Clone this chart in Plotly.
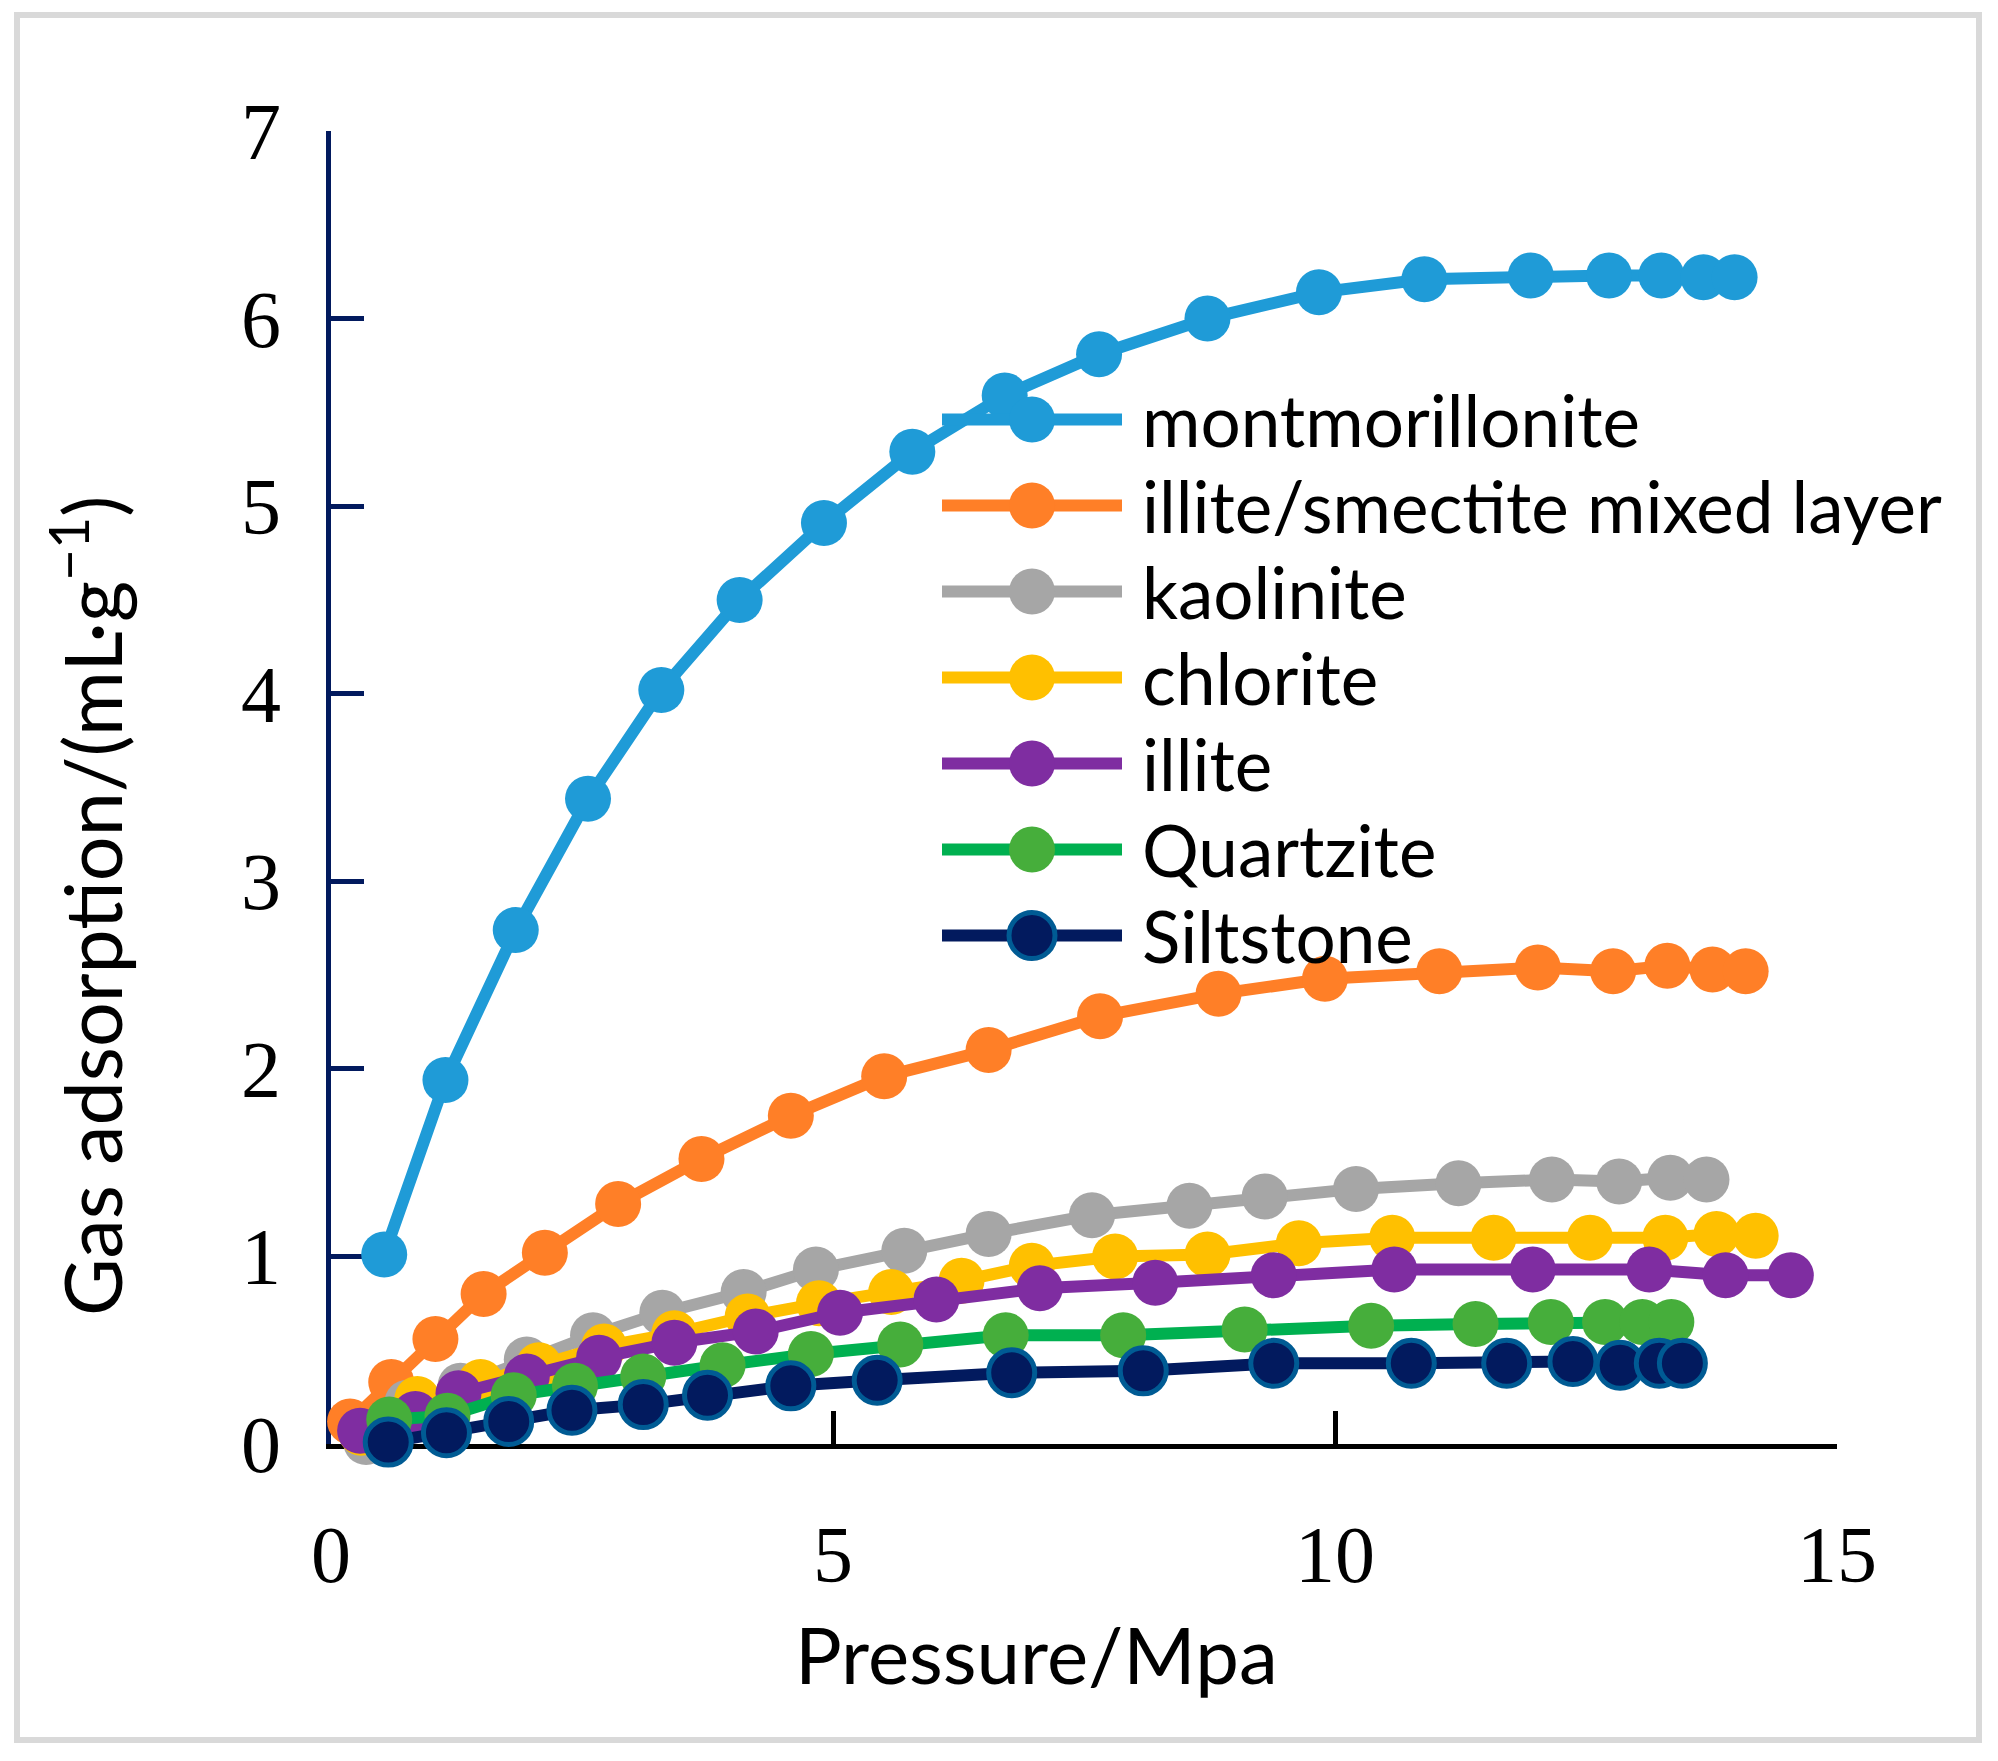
import plotly.graph_objects as go

# ---------------- data ----------------
series_names = ["montmorillonite", "illite/smectite mixed layer", "kaolinite",
                "chlorite", "illite", "Quartzite", "Siltstone"]

montmorillonite_p = [0.53, 1.14, 1.84, 2.56, 3.29, 4.07, 4.91, 5.79, 6.71, 7.65, 8.73, 9.84,
                     10.89, 11.95, 12.73, 13.25, 13.67, 13.98]
montmorillonite_v = [1.01, 1.94, 2.74, 3.44, 4.02, 4.50, 4.91, 5.29, 5.59, 5.81, 6.00, 6.14,
                     6.21, 6.23, 6.23, 6.23, 6.22, 6.22]

mixed_layer_p = [0.19, 0.60, 1.04, 1.52, 2.13, 2.86, 3.69, 4.58, 5.51, 6.55, 7.66, 8.84, 9.90,
                 11.04, 12.02, 12.77, 13.31, 13.76, 14.09]
mixed_layer_v = [0.12, 0.33, 0.56, 0.80, 1.02, 1.28, 1.52, 1.75, 1.96, 2.10, 2.28, 2.40, 2.48,
                 2.52, 2.54, 2.52, 2.55, 2.53, 2.52]

kaolinite_p = [0.35, 0.76, 1.29, 1.95, 2.61, 3.30, 4.11, 4.83, 5.71, 6.55, 7.58, 8.55, 9.30,
               10.21, 11.23, 12.16, 12.83, 13.34, 13.70]
kaolinite_v = [0.01, 0.22, 0.31, 0.45, 0.58, 0.70, 0.81, 0.93, 1.03, 1.12, 1.22, 1.27, 1.32,
               1.36, 1.39, 1.41, 1.40, 1.42, 1.41]

chlorite_p = [0.30, 0.86, 1.49, 2.07, 2.72, 3.42, 4.15, 4.86, 5.58, 6.28, 6.98, 7.81, 8.73,
              9.64, 10.57, 11.58, 12.54, 13.29, 13.80, 14.19]
chlorite_v = [0.06, 0.24, 0.33, 0.42, 0.52, 0.59, 0.68, 0.75, 0.81, 0.87, 0.95, 1.00, 1.01,
              1.07, 1.10, 1.10, 1.10, 1.10, 1.12, 1.11]

illite_p = [0.29, 0.84, 1.27, 1.95, 2.67, 3.42, 4.23, 5.07, 6.03, 7.06, 8.21, 9.39, 10.59,
            11.97, 13.13, 13.89, 14.54]
illite_v = [0.07, 0.16, 0.27, 0.36, 0.46, 0.54, 0.60, 0.70, 0.77, 0.83, 0.86, 0.90, 0.93,
            0.93, 0.93, 0.90, 0.90]

quartzite_p = [0.58, 1.16, 1.82, 2.43, 3.11, 3.90, 4.78, 5.67, 6.72, 7.89, 9.10, 10.36, 11.40,
               12.15, 12.69, 13.06, 13.35]
quartzite_v = [0.13, 0.15, 0.26, 0.31, 0.36, 0.42, 0.48, 0.53, 0.58, 0.58, 0.61, 0.63, 0.64,
               0.65, 0.65, 0.65, 0.65]

siltstone_p = [0.57, 1.15, 1.77, 2.40, 3.11, 3.75, 4.58, 5.44, 6.78, 8.09, 9.39, 10.76, 11.71,
               12.37, 12.84, 13.23, 13.46]
siltstone_v = [0.01, 0.06, 0.12, 0.18, 0.21, 0.26, 0.31, 0.34, 0.38, 0.39, 0.43, 0.43, 0.43,
               0.44, 0.42, 0.43, 0.43]

x_tick_values = [0, 5, 10, 15]
y_tick_values = [0, 1, 2, 3, 4, 5, 6, 7]

x_title = "Pressure/Mpa"
y_title = "Gas adsorption/(mL·g<sup>−1</sup>)"

# ---------------- styles ----------------
line_colors = ["#1F9BD7", "#FF7F27", "#A6A6A6", "#FFC000", "#7F2DA1", "#00B050", "#021A5E"]
marker_colors = ["#1F9BD7", "#FF7F27", "#A6A6A6", "#FFC000", "#7F2DA1", "#46AE3B", "#021A5E"]
marker_line_colors = [None, None, None, None, None, None, "#005B94"]
marker_line_widths = [0, 0, 0, 0, 0, 0, 5]

pressures = [montmorillonite_p, mixed_layer_p, kaolinite_p, chlorite_p, illite_p,
             quartzite_p, siltstone_p]
adsorptions = [montmorillonite_v, mixed_layer_v, kaolinite_v, chlorite_v, illite_v,
               quartzite_v, siltstone_v]

W, H = 1998, 1761
L, R, T, B = 331, 161, 131, 317
PW = W - L - R
PH = H - T - B

MARKER = 46
LINE_W = 12
SERIF = "Liberation Serif, Times New Roman, serif"
SANS = "Lato, Calibri, sans-serif"


def px_x(px):
    return (px - L) / PW


def px_y(py):
    return (H - B - py) / PH


fig = go.Figure()
for i, name in enumerate(series_names):
    mk = dict(size=MARKER, color=marker_colors[i])
    if marker_line_widths[i]:
        mk["line"] = dict(color=marker_line_colors[i], width=marker_line_widths[i])
    else:
        mk["line"] = dict(width=0)
    fig.add_trace(go.Scatter(
        x=pressures[i], y=adsorptions[i], name=name,
        mode="lines+markers",
        line=dict(color=line_colors[i], width=LINE_W),
        marker=mk, cliponaxis=False, showlegend=False,
    ))

# ---------------- custom legend (long line symbols like the reference) ----------------
shapes = []
annotations = []
leg_top = 419.5
leg_step = 86
line_x0, line_x1, mark_x, text_x = 942, 1122, 1032, 1140
for i, name in enumerate(series_names):
    yy = px_y(leg_top + i * leg_step)
    shapes.append(dict(type="line", xref="paper", yref="paper",
                       x0=px_x(line_x0), x1=px_x(line_x1), y0=yy, y1=yy,
                       line=dict(color=line_colors[i], width=LINE_W)))
    r = MARKER / 2
    shapes.append(dict(type="circle", xref="paper", yref="paper",
                       xsizemode="pixel", ysizemode="pixel",
                       xanchor=px_x(mark_x), yanchor=yy,
                       x0=-r, x1=r, y0=-r, y1=r,
                       fillcolor=marker_colors[i],
                       line=dict(color=marker_line_colors[i] or marker_colors[i],
                                 width=marker_line_widths[i] if marker_line_widths[i] else 0)))
    annotations.append(dict(text=name, xref="paper", yref="paper",
                            x=px_x(text_x), y=yy, xanchor="left", yanchor="middle",
                            showarrow=False, font=dict(family=SANS, size=71, color="black")))

# outer light-grey frame
shapes.append(dict(type="rect", xref="paper", yref="paper",
                   x0=px_x(17), x1=px_x(1979), y0=px_y(1740), y1=px_y(15),
                   line=dict(color="#D9D9D9", width=6), layer="below"))

# axis titles
annotations.append(dict(text=x_title, xref="paper", yref="paper",
                        x=px_x(1036), y=px_y(1654), xanchor="center", yanchor="middle",
                        showarrow=False, font=dict(family=SANS, size=78, color="black")))
annotations.append(dict(text=y_title, xref="paper", yref="paper", textangle=-90,
                        x=px_x(86), y=px_y(906), xanchor="center", yanchor="middle",
                        showarrow=False, font=dict(family=SANS, size=79, color="black")))

fig.update_layout(
    width=W, height=H, autosize=False,
    margin=dict(l=L, r=R, t=T, b=B, pad=0),
    paper_bgcolor="white", plot_bgcolor="white",
    shapes=shapes, annotations=annotations, showlegend=False,
    xaxis=dict(range=[0, 15], tickvals=x_tick_values, showgrid=False, zeroline=False,
               showline=True, linecolor="black", linewidth=5,
               ticks="inside", ticklen=33, tickwidth=5, tickcolor="black",
               tickfont=dict(family=SERIF, size=80, color="black"),
               ticklabelstandoff=37, layer="below traces"),
    yaxis=dict(range=[0, 7], tickvals=y_tick_values, showgrid=False, zeroline=False,
               showline=True, linecolor="#021A5E", linewidth=5,
               ticks="inside", ticklen=33, tickwidth=5, tickcolor="#021A5E",
               tickfont=dict(family=SERIF, size=80, color="black"),
               ticklabelstandoff=29, layer="below traces"),
)

fig.write_html("out.html", config={"displayModeBar": False},
               post_script="document.body.style.margin='0';document.body.style.overflow='hidden';")
